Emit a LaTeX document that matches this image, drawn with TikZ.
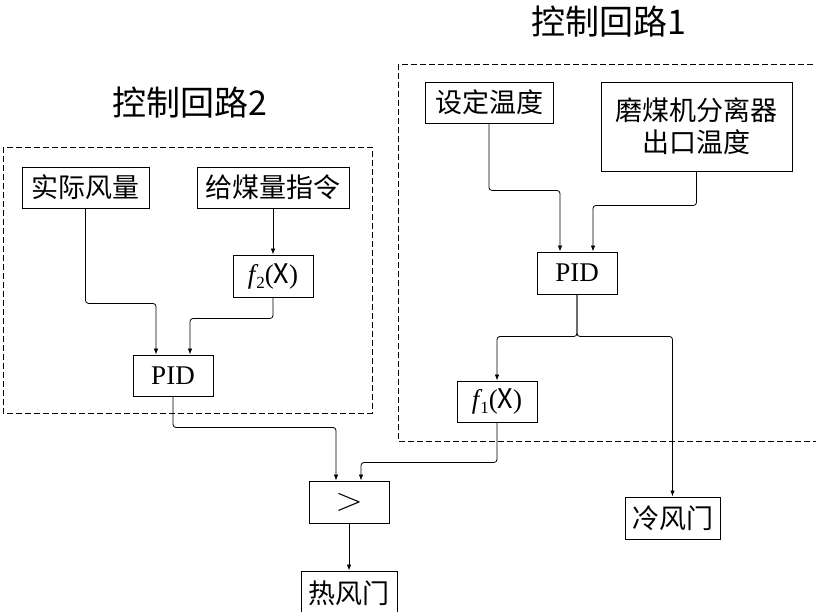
\documentclass[tikz,border=0pt]{standalone}
\usepackage{fontspec}
\setmainfont{Liberation Serif}
\newfontfamily\cjk{Noto Sans CJK SC}
\usetikzlibrary{arrows.meta,positioning}
\newcommand{\fsub}[1]{{\rmfamily\itshape f}\kern1pt\raisebox{-5pt}{\rmfamily\fontsize{17}{17}\selectfont #1}{\rmfamily(}X{\rmfamily)}}

\begin{document}
\begin{tikzpicture}[x=1pt, y=-1pt, every node/.style={font=\cjk\fontsize{27}{30}\selectfont}]
\tikzset{box/.style={draw, line width=0.9pt, inner sep=0pt, align=center, minimum width=80pt, minimum height=41pt}}
\tikzset{arrow/.style={-{Latex[length=6pt,width=4.5pt]}, line width=0.8pt, rounded corners=3pt}}
\tikzset{loop/.style={draw, line width=0.8pt, dash pattern=on 6pt off 3pt}}
\tikzset{title/.style={font=\cjk\fontsize{34}{36}\selectfont}}
\useasboundingbox (0,0) rectangle (816,612);
% loop frames and titles
\draw[loop] (3,147) rectangle (372,413);
\draw[loop] (398,64) rectangle (818,441);
\node[title] (t1) at (609,22) {控制回路1};
\node[title] (t2) at (190,103) {控制回路2};
% loop 2
\node[box, minimum width=127pt] (ssfl) at (85.5,187.5) {实际风量};
\node[box, minimum width=152pt] (gml) at (273,187.5) {给煤量指令};
\node[box, minimum height=42pt] (f2) at (273,276) {\fsub{2}};
\node[box, font=\rmfamily\fontsize{27}{30}\selectfont] (pid2) at (173,375.5) {PID};
% loop 1
\node[box, minimum width=128pt] (sdwd) at (489,102.5) {设定温度};
\node[box, minimum width=191pt, minimum height=89pt] (mmj) at (696.5,126.5) {磨煤机分离器\\[2pt]出口温度};
\node[box, minimum height=42pt, font=\rmfamily\fontsize{27}{30}\selectfont] (pid1) at (577,273) {PID};
\node[box] (f1) at (497,401.5) {\fsub{1}};
% outputs
\node[box, minimum height=42pt] (cmp) at (349,502) {\scalebox{1.45}[1.3]{$>$}};
\node[box, minimum width=96pt, minimum height=45pt] (rfm) at (349,593.5) {热风门};
\node[box, minimum width=95pt, minimum height=42pt] (lfm) at (672.5,518) {冷风门};
% connectors
\draw[arrow] (ssfl.south) -- ++(0,95) -| ([xshift=-17pt]pid2.north);
\draw[arrow] (gml) -- (f2);
\draw[arrow] (f2.south) -- ++(0,21) -| ([xshift=17pt]pid2.north);
\draw[arrow] (sdwd.south) -- ++(0,67) -| ([xshift=-17pt]pid1.north);
\draw[arrow] (mmj.south) -- ++(0,34) -| ([xshift=16pt]pid1.north);
\draw[arrow] (pid1.south) -- ++(0,42) -| (f1.north);
\draw[arrow] (pid1.south) -- ++(0,42) -| (lfm.north);
\draw[arrow] (pid2.south) -- ++(0,31) -| ([xshift=-13pt]cmp.north);
\draw[arrow] (f1.south) -- ++(0,40) -| ([xshift=12pt]cmp.north);
\draw[arrow] (cmp) -- (rfm);
\end{tikzpicture}
\end{document}
